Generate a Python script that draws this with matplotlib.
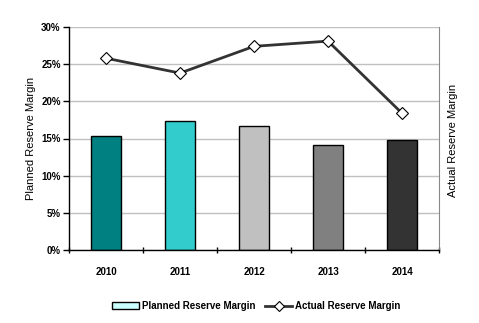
import matplotlib.pyplot as plt
import numpy as np
from matplotlib.ticker import FuncFormatter, FixedLocator
from matplotlib.patches import Patch
from matplotlib.lines import Line2D

years = ['2010', '2011', '2012', '2013', '2014']
planned = [15.3, 17.3, 16.7, 14.1, 14.8]
actual = [25.8, 23.8, 27.4, 28.1, 18.4]
bar_colors = ['#008080', '#33CCCC', '#C0C0C0', '#808080', '#333333']

plt.rcParams['font.family'] = ['Liberation Sans', 'DejaVu Sans']

fig = plt.figure(figsize=(4.79, 3.23), dpi=100)
ax = fig.add_axes([69 / 479, 1 - 250 / 323, 370 / 479, 223 / 323])

x = np.arange(len(years))
ax.bar(x, planned, width=0.4, color=bar_colors, edgecolor='black', linewidth=1, zorder=2)
ax.plot(x, actual, color='#333333', linewidth=2, marker='D', markersize=6.5,
        markerfacecolor='white', markeredgecolor='black', markeredgewidth=0.8, zorder=3)

ax.set_xlim(-0.5, len(years) - 0.5)
ax.set_ylim(0, 30)
ax.set_yticks(np.arange(0, 31, 5))
ax.yaxis.set_major_formatter(FuncFormatter(lambda v, p: f'{v:.0f}%'))
ax.grid(axis='y', color='#c0c0c0', linewidth=1, zorder=0)

ax.set_xticks(x)
ax.set_xticklabels(years, fontsize=7, fontweight='bold')
ax.tick_params(axis='x', length=0, pad=12)
ax.xaxis.set_minor_locator(FixedLocator(np.arange(-0.5, len(years), 1.0)))
ax.tick_params(axis='x', which='minor', length=5, direction='inout', width=1)
ax.tick_params(axis='y', length=4, direction='out', width=1, labelsize=7, pad=2)
for lab in ax.get_yticklabels():
    lab.set_fontweight('bold')

ax.spines['top'].set_visible(False)
ax.spines['right'].set_color('#888888')
ax.spines['left'].set_linewidth(1)
ax.spines['bottom'].set_linewidth(1)

ax.set_ylabel('Planned Reserve Margin', fontsize=8, labelpad=4)
fig.text(453 / 479, 1 - 140 / 323, 'Actual Reserve Margin', rotation=90,
         fontsize=8, ha='center', va='center')

handles = [
    Patch(facecolor='#CCFFFF', edgecolor='black', linewidth=1),
    Line2D([0], [0], color='#333333', linewidth=2, marker='D', markersize=5,
           markerfacecolor='white', markeredgecolor='black', markeredgewidth=0.8),
]
fig.legend(handles, ['Planned Reserve Margin', 'Actual Reserve Margin'],
           loc='center', bbox_to_anchor=(256 / 479, 1 - 306 / 323), ncol=2,
           frameon=False, prop={'size': 7, 'weight': 'bold'},
           handlelength=2.8, handletextpad=0.3, columnspacing=1.0)

fig.savefig('out.png', dpi=100)
